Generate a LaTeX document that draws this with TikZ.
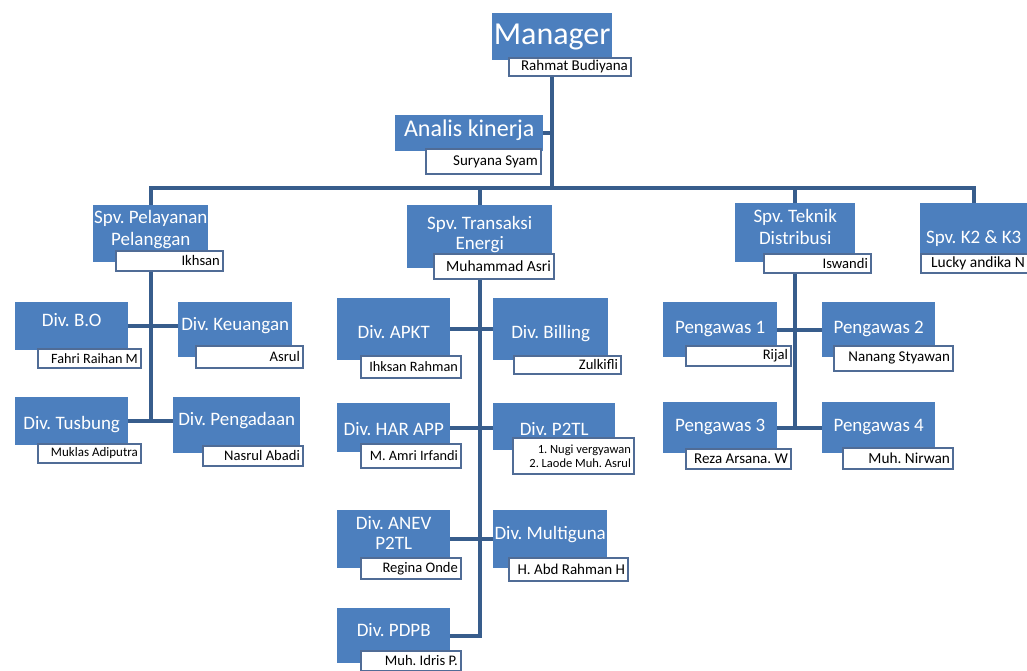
\documentclass[tikz,border=0pt]{standalone}
\usepackage{fontspec}
\setmainfont{Carlito}
\usetikzlibrary{backgrounds}
\definecolor{boxblue}{RGB}{76,127,190}
\definecolor{linkblue}{RGB}{56,93,140}
\definecolor{nameedge}{RGB}{80,108,150}

\begin{document}
\frenchspacing
\begin{tikzpicture}[x=1pt, y=-1pt,
    posbox/.style={rectangle, fill=boxblue, text=white, anchor=north west, align=center, inner sep=1pt, text depth=12pt, font=\fontsize{19}{22}\selectfont},
    lowtext/.style={text height=#1, text depth=4pt},
    person/.style={rectangle, draw=nameedge, line width=1.8pt, fill=white, anchor=north west, align=flush right, inner xsep=3pt, inner ysep=0pt, font=\fontsize{14.6}{16}\selectfont},
    link/.style={draw=linkblue, line width=3.8pt}
  ]
  \useasboundingbox (0,0) rectangle (1027,670);

  % top
  \node[posbox, minimum width=120pt, minimum height=47pt, font=\fontsize{32}{34}\selectfont, text depth=4pt] (mgr) at (492,13) {Manager};
  \node[person, text width=116pt, minimum height=18pt, font=\fontsize{15}{16}\selectfont] (mgrN) at (508,57) {Rahmat Budiyana};
  \node[posbox, minimum width=148pt, minimum height=36pt, font=\fontsize{24}{26}\selectfont, text depth=11pt] (ana) at (395,115) {Analis kinerja};
  \node[person, text width=109pt, minimum height=25pt, font=\fontsize{15}{16}\selectfont] (anaN) at (425,148) {Suryana Syam};

  % supervisors
  \node[posbox, minimum width=115pt, minimum height=57pt] (pel) at (93,205) {Spv. Pelayanan\\Pelanggan};
  \node[person, text width=101pt, minimum height=20pt] (pelN) at (115,250) {Ikhsan};
  \node[posbox, minimum width=145pt, minimum height=63pt, font=\fontsize{19}{20}\selectfont, text depth=8pt] (trans) at (407,205) {Spv. Transaksi\\Energi};
  \node[person, text width=114pt, minimum height=25pt, font=\fontsize{15.5}{16}\selectfont] (transN) at (433,253) {Muhammad Asri};
  \node[posbox, minimum width=120pt, minimum height=59pt] (tek) at (735,203) {Spv. Teknik\\Distribusi};
  \node[person, text width=101pt, minimum height=19pt] (tekN) at (763,253) {Iswandi};
  \node[posbox, minimum width=107pt, minimum height=59pt, lowtext=25pt] (k2) at (920,203) {Spv. K2 \& K3};
  \node[person, text width=101pt, minimum height=19pt, font=\fontsize{15.5}{16}\selectfont] (k2N) at (920,253) {Lucky andika N};

  % pelayanan pelanggan
  \node[posbox, minimum width=113pt, minimum height=48pt] (bo) at (15,302) {Div. B.O};
  \node[person, text width=97pt, minimum height=19pt, font=\fontsize{14.2}{15}\selectfont] (boN) at (37,348) {Fahri Raihan M};
  \node[posbox, minimum width=114pt, minimum height=55pt] (keu) at (178,302) {Div. Keuangan};
  \node[person, text width=101pt, minimum height=22pt] (keuN) at (195,345) {Asrul};
  \node[posbox, minimum width=113pt, minimum height=48pt, lowtext=21pt] (tus) at (15,397) {Div. Tusbung};
  \node[person, text width=97pt, minimum height=19pt, font=\fontsize{13}{14}\selectfont] (tusN) at (37,443) {Muklas Adiputra};
  \node[posbox, minimum width=127pt, minimum height=56pt] (peng) at (173,397) {Div. Pengadaan};
  \node[person, text width=94pt, minimum height=20pt] (pengN) at (202,445) {Nasrul Abadi};

  % transaksi energi
  \node[posbox, minimum width=113pt, minimum height=62pt, lowtext=23pt] (apkt) at (337,298) {Div. APKT};
  \node[person, text width=94pt, minimum height=22pt, font=\fontsize{14.3}{15}\selectfont] (apktN) at (360,355) {Ihksan Rahman};
  \node[posbox, minimum width=115pt, minimum height=62pt, lowtext=23pt] (bill) at (493,298) {Div. Billing};
  \node[person, text width=101pt, minimum height=18pt] (billN) at (513,355) {Zulkifli};
  \node[posbox, minimum width=113pt, minimum height=49pt, lowtext=19pt] (har) at (337,403) {Div. HAR APP};
  \node[person, text width=94pt, minimum height=24pt, font=\fontsize{14.3}{15}\selectfont] (harN) at (360,443) {M. Amri Irfandi};
  \node[posbox, minimum width=122pt, minimum height=47pt, lowtext=21pt] (ptl) at (493,403) {Div. P2TL};
  \node[person, text width=115pt, minimum height=36pt, font=\fontsize{12.5}{14}\selectfont] (ptlN) at (512,437) {1. Nugi vergyawan\\2. Laode Muh. Asrul};
  \node[posbox, minimum width=113pt, minimum height=58pt, font=\fontsize{19}{20}\selectfont] (anev) at (337,510) {Div. ANEV\\P2TL};
  \node[person, text width=94pt, minimum height=21pt] (anevN) at (360,557) {Regina Onde};
  \node[posbox, minimum width=114pt, minimum height=58pt] (multi) at (493,510) {Div. Multiguna};
  \node[person, text width=113pt, minimum height=23pt, font=\fontsize{15}{16}\selectfont] (multiN) at (508,557) {H. Abd Rahman H};
  \node[posbox, minimum width=113pt, minimum height=55pt] (pdpb) at (337,608) {Div. PDPB};
  \node[person, text width=94pt, minimum height=20pt] (pdpbN) at (360,650) {Muh. Idris P.};

  % teknik distribusi
  \node[posbox, minimum width=114pt, minimum height=55pt, text depth=4pt] (pw1) at (663,302) {Pengawas 1};
  \node[person, text width=99pt, minimum height=20pt] (pw1N) at (685,345) {Rijal};
  \node[posbox, minimum width=113pt, minimum height=55pt, text depth=4pt] (pw2) at (822,302) {Pengawas 2};
  \node[person, text width=113pt, minimum height=25pt, font=\fontsize{15}{16}\selectfont] (pw2N) at (833,345) {Nanang Styawan};
  \node[posbox, minimum width=114pt, minimum height=51pt, text depth=4pt] (pw3) at (663,402) {Pengawas 3};
  \node[person, text width=99pt, minimum height=20pt, font=\fontsize{15}{16}\selectfont] (pw3N) at (685,448) {Reza Arsana. W};
  \node[posbox, minimum width=113pt, minimum height=51pt, text depth=4pt] (pw4) at (822,402) {Pengawas 4};
  \node[person, text width=104pt, minimum height=21pt, font=\fontsize{15.3}{16}\selectfont] (pw4N) at (842,447) {Muh. Nirwan};

  \begin{pgfonlayer}{background}
    \fill[white] (0,0) rectangle (1027,670);
    \coordinate (bus) at (0,188);
    \draw[link] (mgr) -- (mgr |- bus);
    \draw[link] (ana.east) -- (ana.east -| mgr);
    \draw[link] (pel) -- (pel |- bus) -- (k2 |- bus) -- (k2);
    \draw[link] (trans) -- (trans |- bus);
    \draw[link] (tek) -- (tek |- bus);

    \draw[link] (pel) |- (tus.east);
    \draw[link] (bo.east) -- (bo.east -| keu.west);
    \draw[link] (tus.east) -- (tus.east -| peng.west);

    \draw[link] (trans) |- (pdpb.east);
    \draw[link] (apkt.east) -- (apkt.east -| bill.west);
    \draw[link] (har.east) -- (har.east -| ptl.west);
    \draw[link] (anev.east) -- (anev.east -| multi.west);

    \draw[link] (tek) |- (pw3.east);
    \draw[link] (pw1.east) -- (pw1.east -| pw2.west);
    \draw[link] (pw3.east) -- (pw3.east -| pw4.west);
  \end{pgfonlayer}
\end{tikzpicture}
\end{document}
